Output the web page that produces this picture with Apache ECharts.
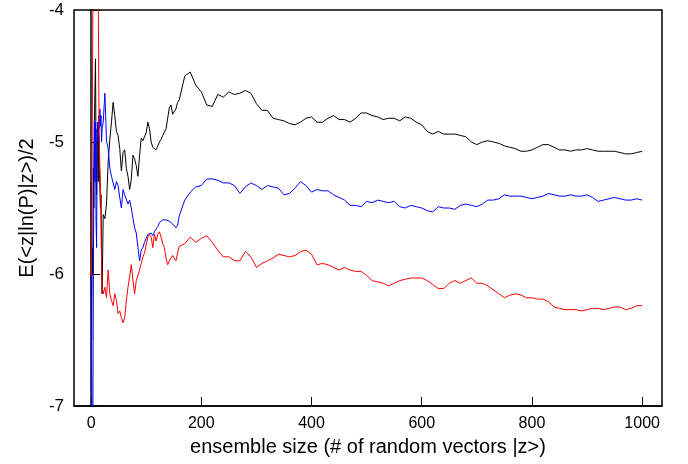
<!DOCTYPE html>
<html>
<head>
<meta charset="utf-8">
<title>ensemble size</title>
<script src="https://cdn.jsdelivr.net/npm/echarts@6/dist/echarts.min.js"></script>
<style>
  html, body { margin: 0; padding: 0; background: #fff; }
  #chart { width: 688px; height: 464px; }
</style>
</head>
<body>
<div id="chart"></div>
<script>
  // x positions (ensemble size), denser where the curves jump around
  var xs = [
    0, 1, 2, 3, 4, 5, 6, 7, 8, 9, 10, 11, 12, 13, 14, 15, 16, 17, 18, 19, 20,
    22, 25, 28, 31, 34, 37, 40, 43, 46, 49, 52, 55, 58, 61, 64, 67, 70, 73, 76, 79,
    82, 85, 88, 91, 94, 97, 100, 103, 106, 109, 112, 115, 118, 121, 124, 127, 130, 133, 136, 139,
    142, 145, 148, 151, 154, 157,
    160, 170, 180, 190, 200, 210, 220, 230, 240, 250, 260, 270, 280, 290, 300, 310, 320, 330, 340, 350,
    360, 370, 380, 390, 400, 410, 420, 430, 440, 450, 460, 470, 480, 490, 500, 510, 520, 530, 540, 550,
    560, 570, 580, 590, 600, 610, 620, 630, 640, 650, 660, 670, 680, 690, 700, 710, 720, 730, 740, 750,
    760, 770, 780, 790, 800, 810, 820, 830, 840, 850, 860, 870, 880, 890, 900, 910, 920, 930, 940, 950,
    960, 970, 980, 990, 1000
  ];

  var blackY = [
    -5.31, -6.5, -5.8, -6.0, -5.2, -5.5, -4.9, -4.6, -4.37, -5.1, -5.4, -4.9, -5.05, -5.3, -4.95, -5.2, -5.35, -5.5, -5.4, -5.9, -6.15,
    -5.55, -5.58, -5.47, -5.15, -4.98, -4.85, -4.7, -4.8, -4.92, -4.95, -5.05, -5.22, -5.08, -5.06, -5.2, -5.26, -5.36, -5.28, -5.1, -5.13,
    -5.18, -5.26, -5.1, -4.97, -4.99, -4.99, -4.93, -4.85, -4.9, -5.0, -5.04, -5.05, -5.06, -5.03, -5.0, -4.98, -4.95, -4.94, -4.9, -4.82,
    -4.74, -4.72, -4.79, -4.78, -4.75, -4.7,
    -4.68, -4.5, -4.47, -4.57, -4.62, -4.72, -4.73, -4.64, -4.66, -4.62, -4.64, -4.63, -4.61, -4.63, -4.71, -4.76, -4.76, -4.82, -4.83, -4.84,
    -4.86, -4.87, -4.85, -4.82, -4.81, -4.85, -4.85, -4.82, -4.8, -4.83, -4.83, -4.85, -4.82, -4.78, -4.78, -4.8, -4.81, -4.83, -4.82, -4.82,
    -4.84, -4.81, -4.82, -4.85, -4.87, -4.92, -4.94, -4.92, -4.94, -4.94, -4.94, -4.95, -4.96, -5.0, -5.02, -5.0, -4.99, -5.0, -5.01, -5.03,
    -5.04, -5.05, -5.07, -5.07, -5.06, -5.04, -5.02, -5.02, -5.04, -5.06, -5.06, -5.07, -5.06, -5.06, -5.05, -5.06, -5.07, -5.07, -5.07, -5.07,
    -5.08, -5.09, -5.09, -5.08, -5.07
  ];

  var blueY = [
    -6.0, -6.6, -7.6, -7.4, -6.2, -5.2, -4.83, -5.3, -4.85, -5.6, -5.8, -5.0, -4.85, -5.0, -4.8, -4.9, -4.75, -4.88, -4.8, -5.0, -4.9,
    -4.85, -4.63, -4.99, -5.05, -5.2, -5.26, -5.25, -5.36, -5.3, -5.33, -5.42, -5.5, -5.36, -5.4, -5.4, -5.47, -5.44, -5.5, -5.58, -5.65,
    -5.69, -5.8, -5.9, -5.82, -5.8, -5.76, -5.73, -5.7, -5.7, -5.69, -5.71, -5.68, -5.68, -5.64, -5.61, -5.6, -5.59, -5.6, -5.59, -5.6,
    -5.6, -5.61, -5.62, -5.62, -5.65, -5.63,
    -5.56, -5.44, -5.38, -5.34, -5.33, -5.28, -5.28, -5.29, -5.31, -5.31, -5.33, -5.39, -5.34, -5.31, -5.33, -5.36, -5.33, -5.34, -5.35, -5.4,
    -5.39, -5.35, -5.3, -5.33, -5.38, -5.36, -5.37, -5.37, -5.4, -5.42, -5.44, -5.48, -5.48, -5.49, -5.45, -5.46, -5.44, -5.45, -5.46, -5.45,
    -5.49, -5.5, -5.48, -5.49, -5.5, -5.52, -5.53, -5.49, -5.5, -5.5, -5.51, -5.48, -5.47, -5.48, -5.49, -5.47, -5.44, -5.44, -5.43, -5.4,
    -5.41, -5.41, -5.41, -5.42, -5.43, -5.42, -5.41, -5.39, -5.4, -5.41, -5.41, -5.4, -5.41, -5.41, -5.4, -5.42, -5.45, -5.44, -5.43, -5.42,
    -5.43, -5.44, -5.44, -5.43, -5.44
  ];

  var redY = [
    -6.02, -5.9, -5.0, -4.2, -3.3, -3.2, -3.1, -3.2, -3.3, -3.2, -3.1, -3.3, -3.5, -3.8, -4.6, -5.0, -5.2, -5.3, -5.6, -5.9, -6.1,
    -6.15, -6.1, -6.18, -5.97, -6.15, -6.2, -6.24, -6.15, -6.2, -6.3, -6.28, -6.33, -6.37, -6.33, -6.2, -6.1, -6.02, -5.93, -6.05, -6.15,
    -6.05, -6.04, -5.97, -5.92, -5.87, -5.84, -5.78, -5.72, -5.7, -5.72, -5.8, -5.7, -5.75, -5.7, -5.68, -5.72, -5.77, -5.8, -5.88, -5.93,
    -5.9, -5.88, -5.86, -5.87, -5.9, -5.84,
    -5.79, -5.77, -5.72, -5.76, -5.73, -5.71, -5.76, -5.82, -5.87, -5.87, -5.9, -5.9, -5.83, -5.87, -5.95, -5.92, -5.9, -5.88, -5.85, -5.86,
    -5.87, -5.86, -5.83, -5.82, -5.85, -5.93, -5.92, -5.93, -5.95, -5.97, -5.95, -5.97, -5.98, -5.98, -6.01, -6.05, -6.06, -6.07, -6.09, -6.07,
    -6.05, -6.04, -6.03, -6.03, -6.03, -6.05, -6.08, -6.11, -6.11, -6.07, -6.05, -6.07, -6.05, -6.03, -6.07, -6.07, -6.09, -6.12, -6.15, -6.18,
    -6.16, -6.15, -6.16, -6.18, -6.18, -6.19, -6.19, -6.21, -6.25, -6.26, -6.27, -6.27, -6.27, -6.28, -6.27, -6.26, -6.26, -6.27, -6.26, -6.25,
    -6.25, -6.27, -6.26, -6.24, -6.24
  ];

  var xTicks = [0, 200, 400, 600, 800, 1000];
  var yTicks = [-7, -6, -5, -4];

  var FONT = '"Liberation Sans", Arial, Helvetica, sans-serif';

  function pairs(ys) {
    return xs.map(function (x, i) { return [x, ys[i]]; });
  }

  function lineSeries(ys, color) {
    return {
      type: 'line',
      data: pairs(ys),
      showSymbol: false,
      clip: true,
      lineStyle: {color: color, width: 1},
      itemStyle: {color: color},
      animation: false
    };
  }

  var chart = echarts.init(document.getElementById('chart'), null, {renderer: 'canvas'});

  chart.setOption({
    backgroundColor: '#fff',
    animation: false,
    grid: {
      left: 74, right: 26, top: 10, bottom: 58,
      show: true,
      borderColor: '#000',
      borderWidth: 1.5
    },
    xAxis: {
      type: 'value',
      min: -31,
      max: 1036,
      name: 'ensemble size (# of random vectors |z>)',
      nameLocation: 'middle',
      nameGap: 31,
      nameTextStyle: {fontFamily: FONT, fontSize: 20, color: '#000'},
      axisLine: {show: true, lineStyle: {color: '#000', width: 1.5}},
      axisTick: {show: true, inside: true, length: 9, customValues: xTicks, lineStyle: {color: '#000'}},
      axisLabel: {
        customValues: xTicks,
        formatter: function (v) { return String(v); },
        fontFamily: FONT, fontSize: 16, color: '#000', margin: 10
      },
      splitLine: {show: false}
    },
    yAxis: {
      type: 'value',
      min: yTicks[0],
      max: yTicks[yTicks.length - 1],
      interval: 1,
      name: 'E(<z|ln(P)|z>)/2',
      nameLocation: 'middle',
      nameRotate: 90,
      nameGap: 37,
      nameTextStyle: {fontFamily: FONT, fontSize: 20, color: '#000'},
      axisLine: {show: true, lineStyle: {color: '#000', width: 1.5}},
      axisTick: {show: true, inside: true, length: 9, lineStyle: {color: '#000'}},
      axisLabel: {fontFamily: FONT, fontSize: 17, color: '#000', margin: 10},
      splitLine: {show: false}
    },
    series: [
      lineSeries(blackY, '#000000'),
      lineSeries(blueY, '#0000ff'),
      lineSeries(redY, '#ff0000')
    ]
  });
</script>
</body>
</html>
